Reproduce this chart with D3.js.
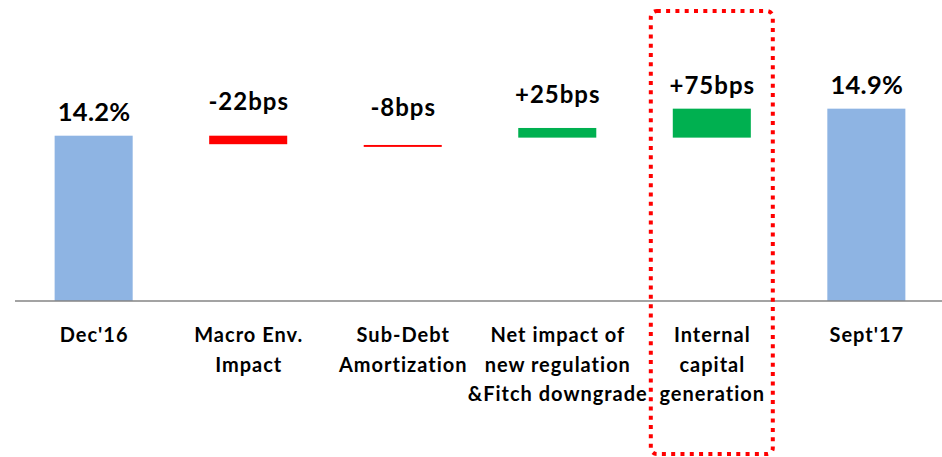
<!DOCTYPE html>
<html>
<head>
<meta charset="utf-8">
<script src="https://cdn.jsdelivr.net/npm/d3@7"></script>
<style>
  body { margin: 0; background: #fff; }
  text { font-family: Lato, "Open Sans", sans-serif; font-weight: bold; fill: #000; }
</style>
</head>
<body>
<div id="chart"></div>
<script>
// categories (multi-line labels) and what each bar shows
var categories = ["Dec'16", "Macro Env.|Impact", "Sub-Debt|Amortization",
                  "Net impact of|new regulation|&Fitch downgrade",
                  "Internal|capital|generation", "Sept'17"];
var valueLabels = ["14.2%", "-22bps", "-8bps", "+25bps", "+75bps", "14.9%"];
var kinds = ["total", "down", "down", "up", "up", "total"];
// bar ends, in % (totals start at the axis)
var barTop    = [14.2, 14.20, 13.96, 14.40, 14.90, 14.9];
var barBottom = [null, 13.98, 13.91, 14.15, 14.15, null];
var highlighted = "Internal|capital|generation";

var width = 942, height = 457;
var colors = {total: "#8EB4E3", down: "#FF0000", up: "#00B050"};

var svg = d3.select("#chart")
    .append("svg")
    .attr("width", width)
    .attr("height", height);

var x = d3.scaleBand()
    .domain(categories)
    .range([16, 944])
    .paddingInner(0.495)
    .paddingOuter(0.25);

var y = d3.scaleLinear()
    .domain([9.92, 15])
    .range([301, 104.8]);

var data = categories.map(function(c, i) {
    return {cat: c, label: valueLabels[i], kind: kinds[i],
            top: barTop[i], bottom: barBottom[i] == null ? y.domain()[0] : barBottom[i]};
});

// bars
svg.selectAll("rect.bar")
    .data(data)
    .enter().append("rect")
    .attr("class", "bar")
    .attr("x", function(d) { return x(d.cat); })
    .attr("y", function(d) { return y(d.top); })
    .attr("width", x.bandwidth())
    .attr("height", function(d) { return y(d.bottom) - y(d.top); })
    .attr("fill", function(d) { return colors[d.kind]; });

// axis line
svg.append("line")
    .attr("x1", 15).attr("x2", 942)
    .attr("y1", y(y.domain()[0])).attr("y2", y(y.domain()[0]))
    .attr("stroke", "#858585")
    .attr("stroke-width", 1.6);

// value labels: totals sit on the bar, changes float over the bar middle
svg.selectAll("text.val")
    .data(data)
    .enter().append("text")
    .attr("class", "val")
    .attr("x", function(d) { return x(d.cat) + x.bandwidth() / 2 + 0.5; })
    .attr("y", function(d) {
        if (d.kind == "total") return y(d.top) - 15;
        return (y(d.top) + y(d.bottom)) / 2 - 29.5;
    })
    .attr("text-anchor", "middle")
    .style("font-size", function(d) { return d.kind == "total" ? "25.5px" : "24px"; })
    .style("letter-spacing", function(d) { return d.kind == "total" ? "0.3px" : "1px"; })
    .text(function(d) { return d.label; });

// category labels
var cats = svg.selectAll("text.cat")
    .data(categories)
    .enter().append("text")
    .attr("class", "cat")
    .attr("text-anchor", "middle")
    .style("font-size", "20px")
    .style("letter-spacing", "1px");

cats.selectAll("tspan")
    .data(function(c) { return c.split("|").map(function(s) { return {c: c, s: s}; }); })
    .enter().append("tspan")
    .attr("x", function(d) { return x(d.c) + x.bandwidth() / 2 + 0.5; })
    .attr("y", function(d, i) { return 342 + i * 29.5; })
    .text(function(d) { return d.s; });

// red dotted highlight box
var cx = x(highlighted) + x.bandwidth() / 2;
svg.append("rect")
    .attr("x", cx - 61)
    .attr("y", 11)
    .attr("width", 122)
    .attr("height", 443)
    .attr("rx", 6)
    .attr("fill", "none")
    .attr("stroke", "#FF0000")
    .attr("stroke-width", 4)
    .attr("stroke-dasharray", "4,5.3");
</script>
</body>
</html>
